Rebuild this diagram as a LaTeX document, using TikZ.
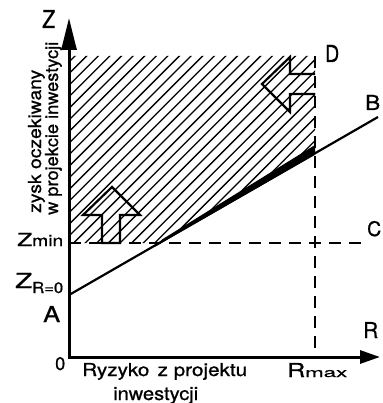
\documentclass[tikz,border=0pt]{standalone}
\usepackage{graphicx}
\usepackage{fontspec}
\setmainfont[FakeBold=0.8]{TeX Gyre Heros}
\usetikzlibrary{arrows.meta}
\newcommand{\fitbox}[3]{\resizebox{#1pt}{#2pt}{#3}}
\begin{document}
\begin{tikzpicture}[x=1pt,y=-1pt,
  lbl/.style={inner sep=0pt, anchor=base west},
  axisline/.style={line width=3pt, line join=miter},
  dashline/.style={line width=2pt, dash pattern=on 12pt off 8pt},
  hatchline/.style={line width=1.3pt},
  outline/.style={line width=2.2pt, line join=miter},
  mainline/.style={line width=2.2pt}]
\useasboundingbox (0,0) rectangle (382,403);
% key coordinates
\coordinate (Ztip) at (69,18);
\coordinate (O) at (69,357);
\coordinate (Rtip) at (380,357);
\coordinate (A) at (69,295);
\coordinate (B) at (378,117);
\coordinate (Zm) at (69,243);
\coordinate (Cend) at (368,243);
\coordinate (Dtop) at (315,56);
\coordinate (Rm) at (315,357);
\coordinate (X) at (159.3,243);
\coordinate (Y) at (315,153.3);
% hatching
\begin{scope}
  \clip (Zm) -- (X) -- (Y) -- (Dtop) -- (69,56) -- cycle;
  \foreach \m in {-12,...,28} {
    \draw[hatchline] ({247+11.6*\m-253},253) -- ++(230,-230);
  }
\end{scope}
% hollow arrows
\draw[outline] (112,187) -- (140,215) -- (120,215) -- (120,243) -- (102,243) -- (102,215) -- (83,215) -- cycle;
\draw[outline] (315,74) -- (290,74) -- (290,57) -- (262,84) -- (290,112) -- (290,94) -- (315,94);
% dashed lines
\draw[dashline] (Zm) -- (Cend);
\draw[dashline] (Dtop) -- (Rm);
% line A-B and thick wedge
\draw[mainline] (A) -- (B);
\fill (155,246.7) -- (162,239.5) -- (315,145) -- (315,154.8) -- cycle;
% axes
\draw[axisline, {Triangle[length=32pt,width=15pt]}-{Triangle[length=20pt,width=13pt]}] (Ztip) -- (O) -- (Rtip);
% labels
\node[lbl] (lZ) at (42,28) {\fitbox{13}{18}{Z}};
\node[lbl] (lZmin) at (17,246) {\fitbox{15}{13}{Z}\fitbox{31}{11}{min}};
\node[lbl] (lZR) at (15,288) {\fitbox{17}{15}{Z}};
\node[lbl] (lZRs) at (32,293) {\fitbox{31}{11}{R=0}};
\node[lbl] (lA) at (43,322) {\fitbox{17}{16}{A}};
\node[lbl] (l0) at (55,370) {\fitbox{10}{13}{0}};
\node[lbl] (lR) at (363,338) {\fitbox{15}{16}{R}};
\node[lbl] (lRmax) at (287,377) {\fitbox{18}{14}{R}};
\node[lbl] (lmax) at (305,377) {\fitbox{42}{7}{max}};
\node[lbl] (lB) at (365,110) {\fitbox{15}{15}{B}};
\node[lbl] (lC) at (367,236) {\fitbox{14}{15}{C}};
\node[lbl] (lD) at (325,62) {\fitbox{14}{17}{D}};
\node[lbl] (lx1) at (82,376) {\fitbox{165}{13}{Ryzyko\hspace{0.12em} z projektu}};
\node[lbl] (lx2) at (113,400) {\fitbox{85}{13}{inwestycji}};
\node[lbl, rotate=90] (ly1) at (41,213) {\fitbox{143}{13}{zysk oczekiwany}};
\node[lbl, rotate=90] (ly2) at (58,215) {\fitbox{173}{13}{w projekcie inwestycji}};
\end{tikzpicture}
\end{document}
